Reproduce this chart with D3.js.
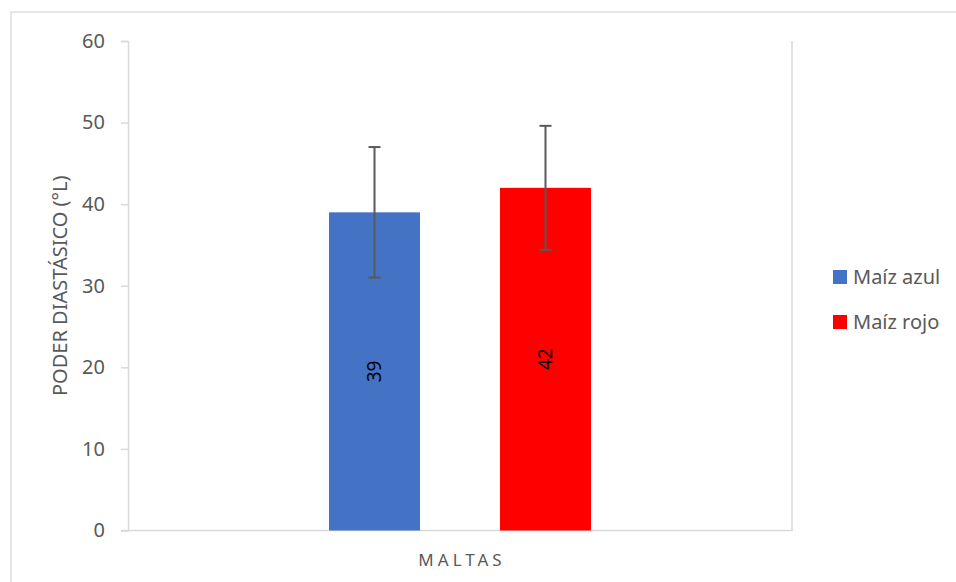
<!DOCTYPE html>
<html>
<head>
<meta charset="utf-8">
<script src="https://cdn.jsdelivr.net/npm/d3@7"></script>
<style>
  html, body { margin: 0; padding: 0; background: #fff; }
  svg { display: block; font-family: "Noto Sans", "Open Sans", sans-serif; }
</style>
</head>
<body>
<svg id="chart" width="956" height="582"></svg>
<script>
// ---- data ----
const categories = ["MALTAS"];
const seriesNames = ["Maíz azul", "Maíz rojo"];
const seriesValues = [39, 42];
const seriesErrors = [8, 7.6];
const seriesColors = ["#4472C4", "#FF0000"];
const yTicks = [0, 10, 20, 30, 40, 50, 60];
const yTitle = "PODER DIASTÁSICO (°L)";

// ---- layout ----
const svg = d3.select("#chart");
const plot = { left: 128, right: 792, top: 41, bottom: 530.5 };

// outer chart border (extends past the window on right/bottom)
svg.append("rect")
  .attr("x", 11).attr("y", 12)
  .attr("width", 1000).attr("height", 700)
  .attr("fill", "none").attr("stroke", "#d9d9d9").attr("stroke-width", 1.3);

const y = d3.scaleLinear().domain([0, 60]).range([plot.bottom, plot.top]);
const x0 = d3.scaleBand().domain(categories).range([plot.left, plot.right])
  .paddingInner(0).paddingOuter(0.4708);
const x1 = d3.scaleBand().domain(seriesNames).range([0, x0.bandwidth()])
  .paddingInner(0.468).paddingOuter(0.234);

// right border line of plot
svg.append("line")
  .attr("x1", plot.right).attr("x2", plot.right)
  .attr("y1", plot.top).attr("y2", plot.bottom)
  .attr("stroke", "#d9d9d9").attr("stroke-width", 1.5);

// y axis
const yAxis = d3.axisLeft(y).tickValues(yTicks).tickSize(7).tickPadding(16);
const gy = svg.append("g").attr("transform", `translate(${plot.left},0)`).call(yAxis);
gy.select(".domain").attr("stroke", "#d9d9d9").attr("stroke-width", 1.5);
gy.selectAll(".tick line").attr("stroke", "#d9d9d9").attr("stroke-width", 1.5);
gy.selectAll(".tick text")
  .attr("fill", "#595959")
  .style("font-size", "20px")
  .style("font-family", "'Noto Sans', sans-serif");

// x axis
const xAxis = d3.axisBottom(x0).tickSize(0).tickPadding(0);
const gx = svg.append("g").attr("transform", `translate(0,${plot.bottom})`).call(xAxis);
gx.select(".domain").remove();
gx.selectAll(".tick text").remove();
svg.append("line")
  .attr("x1", plot.left - 7).attr("x2", plot.right + 0.75)
  .attr("y1", plot.bottom).attr("y2", plot.bottom)
  .attr("stroke", "#d9d9d9").attr("stroke-width", 1.5);

// category label
svg.append("text")
  .attr("x", x0(categories[0]) + x0.bandwidth() / 2 + 2)
  .attr("y", 566)
  .attr("text-anchor", "middle")
  .attr("fill", "#595959")
  .style("font-size", "17px")
  .style("letter-spacing", "4px")
  .text(categories[0]);

// y title
svg.append("text")
  .attr("transform", `translate(67,${(plot.top + plot.bottom) / 2}) rotate(-90)`)
  .attr("text-anchor", "middle")
  .attr("fill", "#595959")
  .style("font-size", "20px")
  .text(yTitle);

// bars
const data = seriesNames.map((s, i) => ({ name: s, value: seriesValues[i], err: seriesErrors[i], color: seriesColors[i] }));
const g = svg.append("g").attr("transform", `translate(${x0(categories[0])},0)`);

g.selectAll("rect.bar").data(data).join("rect")
  .attr("class", "bar")
  .attr("x", d => x1(d.name))
  .attr("y", d => y(d.value))
  .attr("width", x1.bandwidth())
  .attr("height", d => y(0) - y(d.value))
  .attr("fill", d => d.color);

// error bars
const eb = g.selectAll("g.err").data(data).join("g").attr("class", "err");
eb.append("line")
  .attr("x1", d => x1(d.name) + x1.bandwidth() / 2)
  .attr("x2", d => x1(d.name) + x1.bandwidth() / 2)
  .attr("y1", d => y(d.value + d.err))
  .attr("y2", d => y(d.value - d.err))
  .attr("stroke", "#595959").attr("stroke-width", 2);
eb.selectAll("line.cap").data(d => [d.value + d.err, d.value - d.err].map(v => ({ v, d }))).join("line")
  .attr("class", "cap")
  .attr("x1", o => x1(o.d.name) + x1.bandwidth() / 2 - 6)
  .attr("x2", o => x1(o.d.name) + x1.bandwidth() / 2 + 6)
  .attr("y1", o => y(o.v))
  .attr("y2", o => y(o.v))
  .attr("stroke", "#595959").attr("stroke-width", 2);

// data labels (rotated)
g.selectAll("text.lbl").data(data).join("text")
  .attr("class", "lbl")
  .attr("transform", d => `translate(${x1(d.name) + x1.bandwidth() / 2},${(y(d.value) + y(0)) / 2}) rotate(-90)`)
  .attr("text-anchor", "middle")
  .attr("dy", "0.35em")
  .attr("fill", "#000")
  .style("font-size", "19px")
  .text(d => d.value);

// legend
const leg = svg.append("g");
const legY = [277, 322];
data.forEach((d, i) => {
  leg.append("rect")
    .attr("x", 833).attr("y", legY[i] - 7)
    .attr("width", 14).attr("height", 14)
    .attr("fill", d.color);
  leg.append("text")
    .attr("x", 853).attr("y", legY[i])
    .attr("dy", "0.35em")
    .attr("fill", "#595959")
    .style("font-size", "20px")
    .text(d.name);
});
</script>
</body>
</html>
